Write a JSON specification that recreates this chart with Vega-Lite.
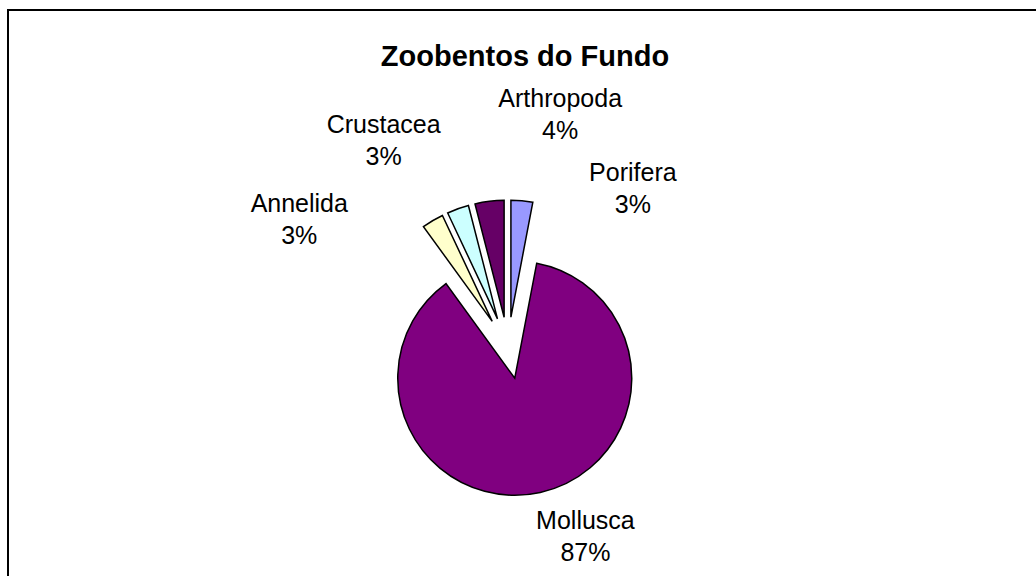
{
  "$schema": "https://vega.github.io/schema/vega-lite/v6.json",
  "width": 1040,
  "height": 600,
  "autosize": {"type": "none"},
  "padding": {"left": 8, "top": 10, "right": -12, "bottom": -34},
  "background": "white",
  "view": {"stroke": "black", "strokeWidth": 2, "fill": "white", "strokeDash": [1040, 1640, 610, 0]},
  "config": {"font": "Liberation Sans"},
  "title": {"text": "Zoobentos do Fundo", "fontSize": 29, "fontWeight": "bold", "font": "Liberation Sans", "color": "black", "anchor": "middle", "frame": "group", "offset": -62, "dx": -3},
  "data": {"values": [
    {"cat": "Porifera", "value": 3, "ord": 1},
    {"cat": "Mollusca", "value": 87, "ord": 2},
    {"cat": "Annelida", "value": 3, "ord": 3},
    {"cat": "Crustacea", "value": 3, "ord": 4},
    {"cat": "Arthropoda", "value": 4, "ord": 5}
  ]},
  "transform": [{"calculate": "datum.cat + '\\n' + datum.value + '%'", "as": "label"}],
  "encoding": {
    "theta": {"field": "value", "type": "quantitative", "stack": true},
    "order": {"field": "ord", "type": "quantitative"}
  },
  "layer": [
    {
      "mark": {
        "type": "arc",
        "radius": 117,
        "stroke": "black",
        "strokeWidth": 1.5,
        "xOffset": {"expr": "-20 + 31*sin((scale('theta', datum.value_start) + scale('theta', datum.value_end))/2)"},
        "yOffset": {"expr": "38 - 31*cos((scale('theta', datum.value_start) + scale('theta', datum.value_end))/2)"}
      },
      "encoding": {
        "color": {
          "field": "cat",
          "type": "nominal",
          "scale": {"domain": ["Porifera", "Mollusca", "Annelida", "Crustacea", "Arthropoda"], "range": ["#9999FF", "#800080", "#FFFFCC", "#CCFFFF", "#660066"]},
          "legend": null
        }
      }
    },
    {
      "mark": {
        "type": "text",
        "radius": 190,
        "fontSize": 25,
        "font": "Liberation Sans",
        "color": "black",
        "lineBreak": "\n",
        "lineHeight": 32,
        "align": "center",
        "baseline": "middle",
        "xOffset": -20,
        "yOffset": 38,
        "dx": {"expr": "datum.cat == 'Porifera' ? 107 : datum.cat == 'Arthropoda' ? 76 : datum.cat == 'Crustacea' ? -60 : datum.cat == 'Annelida' ? -112 : 36"},
        "dy": {"expr": "datum.cat == 'Porifera' ? 14 : datum.cat == 'Arthropoda' ? -60 : datum.cat == 'Crustacea' ? -44 : datum.cat == 'Annelida' ? 20 : -12"}
      },
      "encoding": {
        "text": {"field": "label", "type": "nominal"},
        "detail": {"field": "cat", "type": "nominal"}
      }
    }
  ]
}
